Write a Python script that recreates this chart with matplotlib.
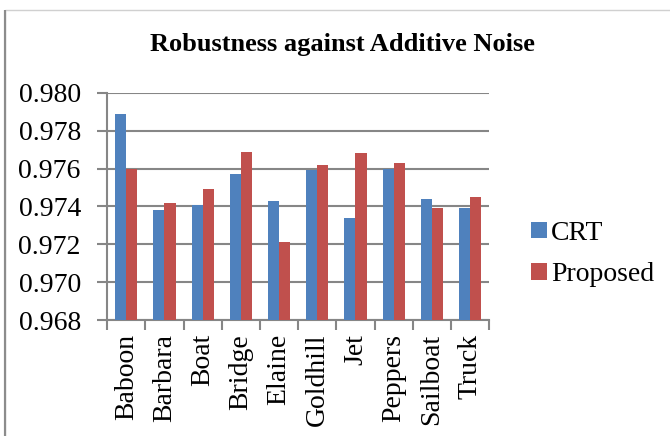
import numpy as np
import matplotlib.pyplot as plt
from matplotlib.patches import Rectangle

images = ["Baboon", "Barbara", "Boat", "Bridge", "Elaine",
          "Goldhill", "Jet", "Peppers", "Sailboat", "Truck"]
crt = [0.9789, 0.9738, 0.9741, 0.9757, 0.9743,
       0.9759, 0.9734, 0.9760, 0.9744, 0.9739]
proposed = [0.9760, 0.9742, 0.9749, 0.9769, 0.9721,
            0.9762, 0.9768, 0.9763, 0.9739, 0.9745]
yticks = [0.968, 0.970, 0.972, 0.974, 0.976, 0.978, 0.980]

plt.rcParams['font.family'] = ['Liberation Serif', 'DejaVu Serif']

fig = plt.figure(figsize=(6.7, 4.36), dpi=100)
ax = fig.add_axes([0.160, 0.266, 0.570, 0.521])

# chart border (cropped on right/bottom)
fig.patches.append(Rectangle((5 / 670, -0.1), 1.2, 1.1 - 10 / 436,
                             transform=fig.transFigure, fill=False,
                             edgecolor="#d0d0d0", linewidth=1.0))
fig.patches.append(Rectangle((5 / 670, -0.1), 0, 1.1 - 10 / 436,
                             transform=fig.transFigure, fill=False,
                             edgecolor="#8c8c8c", linewidth=1.5))

x = np.arange(len(images))
w = 0.29
ax.bar(x - w / 2, crt, w, color="#4f81bd", label="CRT", zorder=3)
ax.bar(x + w / 2, proposed, w, color="#c0504d", label="Proposed", zorder=3)

ax.set_ylim(0.968, 0.980)
ax.set_yticks(yticks)
ax.set_yticklabels(["%.3f" % v for v in yticks], fontsize=20)
ax.set_xlim(-0.5, len(images) - 0.5)
ax.set_xticks(x)
ax.set_xticklabels(images, rotation=90, fontsize=20)
ax.tick_params(axis="x", length=0, pad=10)
ax.set_xticks(np.arange(-0.5, len(images)), minor=True)
ax.tick_params(axis="x", which="minor", length=7, width=1.5, color="#868686")
ax.tick_params(axis="y", length=7, width=1.5, color="#868686", pad=12)

ax.grid(axis="y", color="#868686", linewidth=1.5, zorder=0)
for s in ["top", "right"]:
    ax.spines[s].set_visible(False)
for s in ["left", "bottom"]:
    ax.spines[s].set_color("#868686")
    ax.spines[s].set_linewidth(1.5)

fig.text(0.511, 0.897, "Robustness against Additive Noise", ha="center",
         va="center", fontsize=19, fontweight="bold")

ax.legend(loc="center left", bbox_to_anchor=(1.045, 0.29), frameon=False,
          fontsize=20, handlelength=0.55, handleheight=0.55,
          handletextpad=0.15, labelspacing=0.6)

fig.savefig("out.png", dpi=100)
